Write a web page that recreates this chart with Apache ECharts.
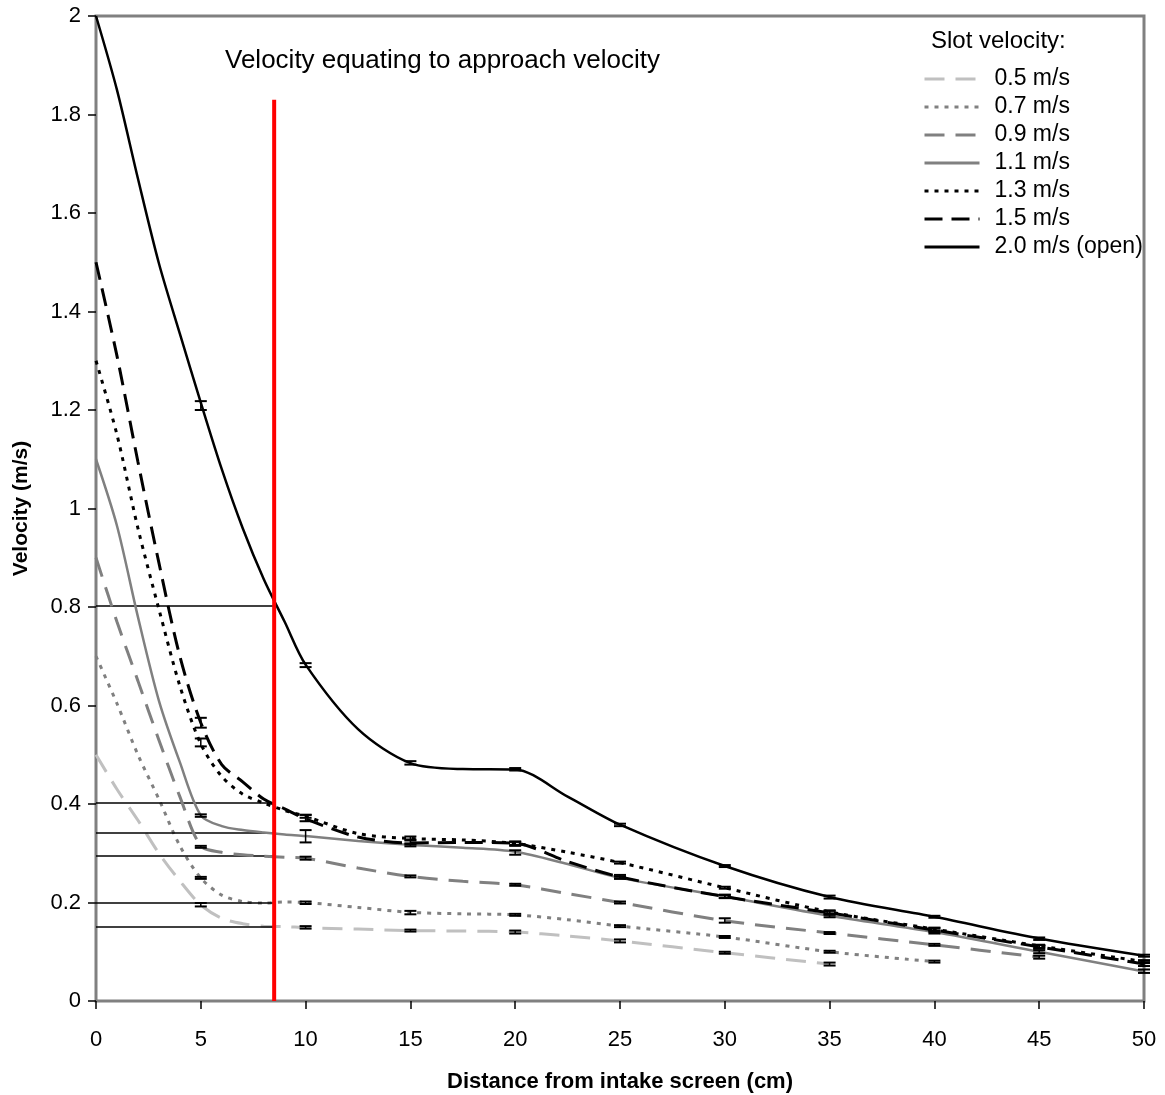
<!DOCTYPE html>
<html><head><meta charset="utf-8">
<script src="https://cdn.jsdelivr.net/npm/echarts@6/dist/echarts.min.js"></script>
<style>html,body{margin:0;padding:0;background:#fff}#c{width:1165px;height:1095px}</style>
</head><body><div id="c"></div>
<script>
// ---- data ----
const distance = [0, 1, 2, 3, 4, 5, 6, 7, 8, 9, 10, 12.5, 15, 17.5, 20, 22.5, 25, 30, 35, 40, 45, 50];
const v05 = [0.5, 0.43, 0.367, 0.30, 0.244, 0.195, 0.168, 0.157, 0.152, 0.151, 0.149, 0.146, 0.143, 0.142, 0.14, 0.132, 0.122, 0.098, 0.075, null, null, null];
const v07 = [0.7, 0.604, 0.50, 0.41, 0.315, 0.25, 0.215, 0.202, 0.199, 0.201, 0.2, 0.19, 0.18, 0.177, 0.175, 0.165, 0.152, 0.13, 0.1, 0.08, null, null];
const v09 = [0.9, 0.77, 0.65, 0.53, 0.415, 0.315, 0.302, 0.297, 0.294, 0.292, 0.29, 0.27, 0.253, 0.243, 0.236, 0.218, 0.2, 0.163, 0.138, 0.114, 0.089, null];
const v11 = [1.1, 0.965, 0.78, 0.61, 0.485, 0.377, 0.355, 0.347, 0.342, 0.338, 0.335, 0.325, 0.317, 0.311, 0.303, 0.278, 0.25, 0.212, 0.173, 0.14, 0.1, 0.06];
const v13 = [1.3, 1.15, 0.96, 0.796, 0.64, 0.522, 0.456, 0.42, 0.402, 0.387, 0.375, 0.34, 0.33, 0.327, 0.32, 0.302, 0.281, 0.23, 0.181, 0.146, 0.112, 0.08];
const v15 = [1.5, 1.31, 1.095, 0.89, 0.70, 0.565, 0.48, 0.445, 0.41, 0.39, 0.37, 0.333, 0.321, 0.322, 0.32, 0.283, 0.252, 0.212, 0.179, 0.144, 0.11, 0.075];
const v20 = [2.0, 1.85, 1.67, 1.498, 1.355, 1.215, 1.08, 0.96, 0.857, 0.77, 0.683, 0.552, 0.483, 0.471, 0.47, 0.415, 0.358, 0.274, 0.211, 0.171, 0.127, 0.092];
const seriesNames = ['0.5 m/s', '0.7 m/s', '0.9 m/s', '1.1 m/s', '1.3 m/s', '1.5 m/s', '2.0 m/s (open)'];
const seriesValues = [v05, v07, v09, v11, v13, v15, v20];
const approachDistance = 8.5;
const approachLineTop = 1.83;
const approachLevels = [0.803, 0.402, 0.341, 0.295, 0.199, 0.151];
// error bars: [distance, low, high]
const errorBars = [
  [5,1.200,1.218],[10,0.678,0.686],[15,0.480,0.487],[20,0.468,0.473],[25,0.355,0.360],[30,0.272,0.276],[35,0.208,0.214],[40,0.169,0.173],[45,0.124,0.129],[50,0.090,0.094],
  [5,0.555,0.575],[10,0.365,0.378],[15,0.318,0.326],[20,0.315,0.324],[25,0.249,0.256],[30,0.209,0.216],[35,0.175,0.183],[40,0.140,0.148],[45,0.106,0.114],[50,0.071,0.079],
  [5,0.517,0.533],[10,0.372,0.378],[15,0.328,0.334],[20,0.317,0.323],[25,0.279,0.283],[30,0.228,0.232],[35,0.178,0.184],[40,0.143,0.149],[45,0.108,0.114],[50,0.077,0.083],
  [5,0.374,0.379],[10,0.322,0.347],[15,0.314,0.320],[20,0.297,0.306],[25,0.248,0.253],[30,0.209,0.215],[35,0.170,0.176],[40,0.137,0.143],[45,0.097,0.103],[50,0.057,0.064],
  [5,0.311,0.315],[10,0.287,0.293],[15,0.251,0.255],[20,0.234,0.238],[25,0.198,0.202],[30,0.159,0.168],[35,0.136,0.140],[40,0.112,0.116],[45,0.086,0.092],
  [5,0.248,0.252],[10,0.197,0.202],[15,0.176,0.183],[20,0.173,0.177],[25,0.150,0.154],[30,0.128,0.132],[35,0.098,0.102],[40,0.078,0.082],
  [5,0.192,0.199],[10,0.147,0.152],[15,0.141,0.145],[20,0.137,0.143],[25,0.119,0.125],[30,0.096,0.100],[35,0.072,0.078]
];

// ---- styles ----
const lineStyles = [
  {color:'#c0c0c0', width:3, type:[20,11]},
  {color:'#808080', width:3, type:[4,6]},
  {color:'#808080', width:3, type:[20,11]},
  {color:'#808080', width:2.5, type:'solid'},
  {color:'#000000', width:3, type:[4,6]},
  {color:'#000000', width:3, type:[18,9]},
  {color:'#000000', width:2.5, type:'solid'}
];
const FONT = '"Liberation Sans", Arial, sans-serif';

const chart = echarts.init(document.getElementById('c'), null, {renderer:'canvas'});

const lineSeries = seriesNames.map((name, k) => ({
  name: name,
  type: 'line',
  data: distance.map((d, i) => [d, seriesValues[k][i]]).filter(p => p[1] !== null),
  smooth: 0.3,
  symbol: 'none',
  showSymbol: false,
  lineStyle: Object.assign({cap:'butt'}, lineStyles[k]),
  itemStyle: {color: lineStyles[k].color},
  z: 3 + k,
  silent: true
}));

const option = {
  animation: false,
  backgroundColor: '#fff',
  grid: {left: 96, right: 21, top: 16, bottom: 94, show: true, borderColor: '#808080', borderWidth: 3,
         containLabel: false, outerBoundsMode: 'none'},
  xAxis: {
    type: 'value', min: 0, max: 50, interval: 5,
    name: 'Distance from intake screen (cm)', nameLocation: 'middle', nameGap: 70,
    nameTextStyle: {fontFamily: FONT, fontSize: 22, fontWeight: 'bold', color: '#000'},
    axisLine: {show: true, lineStyle: {color: '#808080', width: 2}},
    axisTick: {show: true, inside: false, length: 8, lineStyle: {color: '#000', width: 1.5}},
    axisLabel: {fontFamily: FONT, fontSize: 22, color: '#000', margin: 28},
    splitLine: {show: false}
  },
  yAxis: {
    type: 'value', min: 0, max: 2, interval: 0.2,
    name: 'Velocity (m/s)', nameLocation: 'middle', nameGap: 64,
    nameTextStyle: {fontFamily: FONT, fontSize: 21, fontWeight: 'bold', color: '#000'},
    axisLine: {show: true, lineStyle: {color: '#808080', width: 2}},
    axisTick: {show: true, inside: false, length: 8, lineStyle: {color: '#000', width: 1.5}},
    axisLabel: {fontFamily: FONT, fontSize: 22, color: '#000', margin: 15},
    splitLine: {show: false}
  },
  legend: {
    data: seriesNames,
    orient: 'vertical',
    left: 918, top: 62,
    itemWidth: 55, itemHeight: 14, itemGap: 4,
    selectedMode: false,
    itemStyle: {opacity: 0},
    lineStyle: {width: 3},
    textStyle: {fontFamily: FONT, fontSize: 23, color: '#000', lineHeight: 24, padding: [0, 0, 0, 10]}
  },
  graphic: [
    {type: 'text', left: 225, top: 48, silent: true,
     style: {text: 'Velocity equating to approach velocity', font: '26px ' + FONT, fill: '#000'}},
    {type: 'text', left: 931, top: 29, silent: true,
     style: {text: 'Slot velocity:', font: '24px ' + FONT, fill: '#000'}}
  ],
  series: [
    {
      name: 'approach', type: 'line', silent: true, symbol: 'none', z: 10,
      data: [[approachDistance, 0], [approachDistance, approachLineTop]],
      lineStyle: {color: '#ff0000', width: 4},
      markLine: {
        silent: true, symbol: ['none', 'none'], animation: false, label: {show: false},
        lineStyle: {color: '#000', width: 1.5, type: 'solid'},
        data: approachLevels.map(v => [{coord: [0, v]}, {coord: [approachDistance, v]}])
      }
    },
    ...lineSeries,
    {
      name: 'errors', type: 'custom', silent: true, z: 12,
      data: errorBars,
      encode: {x: 0, y: [1, 2]},
      renderItem: function (params, api) {
        const x = api.value(0), lo = api.value(1), hi = api.value(2);
        const p1 = api.coord([x, lo]), p2 = api.coord([x, hi]);
        const w = 6;
        const st = {stroke: '#000', lineWidth: 2};
        return {type: 'group', children: [
          {type: 'line', shape: {x1: p1[0], y1: p1[1], x2: p2[0], y2: p2[1]}, style: {stroke: '#000', lineWidth: 1.5}},
          {type: 'line', shape: {x1: p1[0] - w, y1: p1[1], x2: p1[0] + w, y2: p1[1]}, style: st},
          {type: 'line', shape: {x1: p2[0] - w, y1: p2[1], x2: p2[0] + w, y2: p2[1]}, style: st}
        ]};
      }
    }
  ]
};
chart.setOption(option);
</script>
</body></html>
